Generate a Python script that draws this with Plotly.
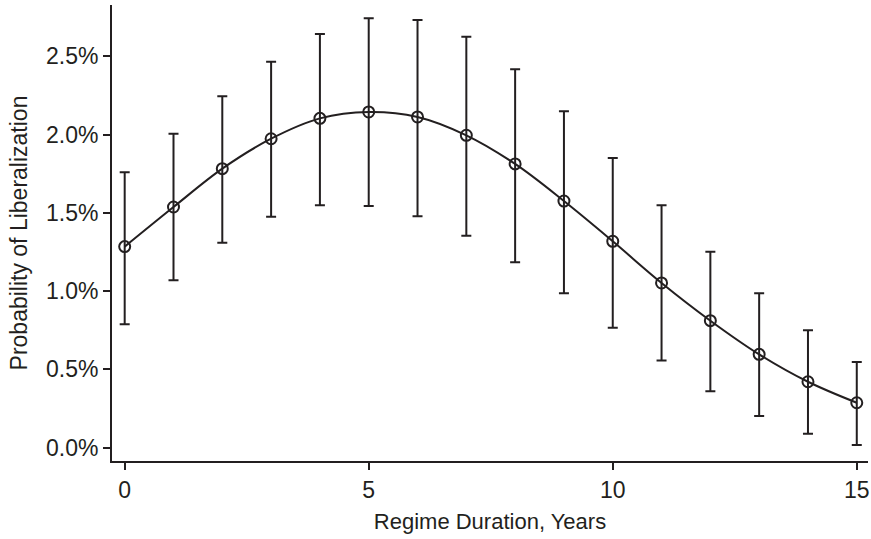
import plotly.graph_objects as go

years = list(range(16))
prob = [1.284, 1.537, 1.782, 1.973, 2.103, 2.144, 2.112, 1.995, 1.812, 1.575,
        1.318, 1.052, 0.811, 0.596, 0.421, 0.287]
upper = [1.759, 2.005, 2.244, 2.465, 2.642, 2.742, 2.731, 2.625, 2.416, 2.148,
         1.850, 1.548, 1.252, 0.986, 0.750, 0.547]
lower = [0.788, 1.069, 1.309, 1.475, 1.548, 1.543, 1.478, 1.354, 1.184, 0.986,
         0.766, 0.556, 0.360, 0.202, 0.089, 0.017]

y_ticks = [0.0, 0.5, 1.0, 1.5, 2.0, 2.5]
x_ticks = [0, 5, 10, 15]

ink = "#231f20"
font_family = "Liberation Sans, Arial, sans-serif"

err_plus = [u - p for u, p in zip(upper, prob)]
err_minus = [p - l for p, l in zip(prob, lower)]

fig = go.Figure()
fig.add_trace(go.Scatter(
    x=years, y=prob, mode="lines+markers",
    line=dict(color=ink, width=2, shape="spline", smoothing=1.0),
    marker=dict(symbol="circle-open", size=11, color=ink, line=dict(width=2, color=ink)),
    error_y=dict(type="data", symmetric=False, array=err_plus, arrayminus=err_minus,
                 color=ink, thickness=2, width=5),
    showlegend=False, cliponaxis=False,
))

fig.update_layout(
    width=871, height=539,
    margin=dict(l=112, r=3, t=5, b=78),
    paper_bgcolor="white", plot_bgcolor="white",
    font=dict(family=font_family, size=23, color=ink),
    xaxis=dict(
        range=[-0.26, 15.23], tickvals=x_ticks, ticktext=[str(v) for v in x_ticks],
        showline=True, linecolor=ink, linewidth=2, ticks="outside", ticklen=7,
        tickwidth=1.5, tickcolor=ink, showgrid=False, zeroline=False,
        ticklabeloverflow="allow",
        title=dict(text="Regime Duration, Years", standoff=12, font=dict(size=22)),
        tickfont=dict(size=23), automargin=False,
    ),
    yaxis=dict(
        range=[-0.085, 2.827], tickvals=y_ticks,
        ticktext=[f"{v:.1f}%" for v in y_ticks],
        showline=True, linecolor=ink, linewidth=2, ticks="outside", ticklen=7,
        tickwidth=1.5, tickcolor=ink, showgrid=False, zeroline=False,
        title=dict(text="Probability of Liberalization", standoff=12, font=dict(size=23)),
        tickfont=dict(size=23), automargin=False,
    ),
)

fig.write_html("out.html", config={"displayModeBar": False},
               post_script="document.body.style.margin='0';")
